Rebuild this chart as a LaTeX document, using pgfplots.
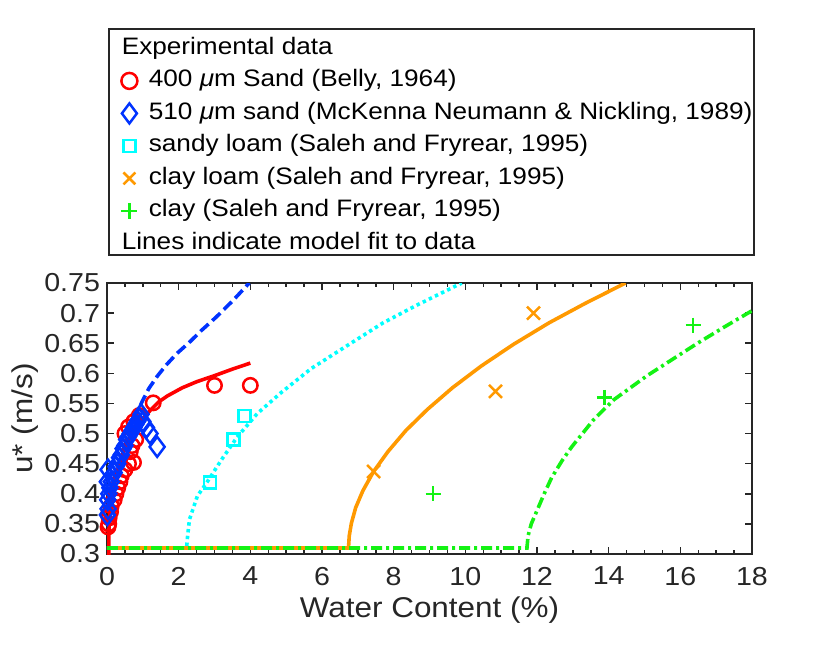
\documentclass[border=0pt]{standalone}
\usepackage{fontspec}
\setmainfont{Liberation Sans}[FakeStretch=1.1]
\usepackage{pgfplots}
\pgfplotsset{compat=1.18}
\definecolor{mred}{rgb}{1,0,0}
\definecolor{mblue}{rgb}{0,0.2,1}
\definecolor{mcyan}{rgb}{0,1,1}
\definecolor{morange}{rgb}{1,0.6,0}
\definecolor{mgreen}{rgb}{0.08,0.95,0.08}
\definecolor{mgray}{rgb}{0.15,0.15,0.15}
\begin{document}
\begin{tikzpicture}
\path (0,0) rectangle (415pt,322pt);
\begin{axis}[
  at={(53.5pt,45pt)}, anchor=south west,
  scale only axis, width=322.5pt, height=135.5pt,
  xmin=0, xmax=18, ymin=0.3, ymax=0.75,
  xtick={0,2,4,6,8,10,12,14,16,18},
  ytick={0.3,0.35,0.4,0.45,0.5,0.55,0.6,0.65,0.7,0.75},
  minor x tick num=3,
  tick align=inside,
  major tick length=3.4pt, minor tick length=2pt,
  axis line style={mgray, line width=1pt},
  every tick/.style={mgray, line width=0.75pt},
  tick label style={font=\fontsize{13}{15}\selectfont, text=mgray},
  /pgf/number format/assume math mode=true,
  yticklabel style={/pgf/number format/fixed, /pgf/number format/precision=2},
  xticklabel style={yshift=-3pt},
  xlabel={Water Content (\%)}, ylabel={u* (m/s)},
  label style={font=\fontsize{14.3}{16}\selectfont, text=mgray},
  xlabel style={at={(axis description cs:0.5,-0.2066)}, anchor=center},
  ylabel style={at={(axis description cs:-0.127,0.5)}, anchor=center},
  legend style={at={(axis description cs:0.0155,1.9085)}, anchor=north west,
    draw=none, fill=none, inner sep=0pt, outer sep=0pt,
    column sep=3.5pt, row sep=4.65pt,
    font=\fontsize{11.9}{14}\selectfont,
    nodes={inner sep=0pt, text height=8.6pt, text depth=2.6pt}},
  legend cell align=left,
]
% 400 um sand (Belly 1964)
\addplot[forget plot, only marks, mark=o, mark size=3.6pt, mred, line width=1.25pt] coordinates {
(0.03,0.345)(0.05,0.35)(0.06,0.36)(0.04,0.365)(0.1,0.37)(0.12,0.38)(0.2,0.39)(0.25,0.40)
(0.3,0.41)(0.36,0.42)(0.4,0.43)(0.5,0.44)(0.6,0.45)(0.74,0.452)(0.65,0.47)(0.7,0.48)
(0.8,0.49)(0.5,0.5)(0.6,0.511)(0.75,0.52)(0.9,0.53)(1.29,0.551)(3.0,0.58)(4.0,0.58)};
\addplot[forget plot, mred, line width=1.8pt] coordinates {
(0.05,0.25)(0.05,0.30)(0.055,0.34)(0.07,0.36)(0.1,0.38)(0.15,0.40)(0.2,0.415)(0.3,0.44)
(0.4,0.46)(0.6,0.488)(0.8,0.508)(1.0,0.525)(1.2,0.538)(1.45,0.553)(1.7,0.563)(2.1,0.576)
(2.5,0.586)(3.04,0.597)(3.5,0.607)(4.0,0.617)};
% 510 um sand
\addplot[forget plot, only marks, mark=diamond, mark size=5pt, mblue, line width=1.25pt] coordinates {
(0.01,0.365)(0.03,0.375)(0.02,0.39)(0.05,0.40)(0.01,0.42)(0.08,0.41)(0.03,0.44)(0.12,0.42)
(0.15,0.43)(0.2,0.435)(0.25,0.445)(0.3,0.45)(0.35,0.46)(0.4,0.465)(0.45,0.475)(0.5,0.48)
(0.55,0.49)(0.6,0.495)(0.65,0.50)(0.7,0.505)(0.75,0.51)(0.8,0.515)(0.85,0.52)(0.9,0.525)
(0.95,0.532)(1.0,0.52)(1.1,0.51)(1.2,0.50)(1.4,0.478)};
\addplot[forget plot, mblue, line width=1.8pt, dash pattern=on 5.5pt off 2.5pt] coordinates {
(0,0.37)(0.1,0.40)(0.2,0.425)(0.4,0.465)(0.6,0.50)(0.8,0.53)(0.98,0.553)(1.17,0.575)
(1.4,0.595)(1.64,0.613)(1.95,0.633)(2.29,0.651)(2.65,0.672)(3.04,0.693)(3.5,0.72)(3.97,0.75)};
% sandy loam
\addplot[forget plot, only marks, mark=square, mark size=3pt, mcyan, line width=1.25pt] coordinates {
(2.87,0.419)(3.53,0.49)(3.84,0.529)};
\addplot[forget plot, mcyan, line width=1.8pt, dash pattern=on 1.7pt off 1.7pt] coordinates {
(0,0.31)(2.22,0.31)(2.25,0.33)(2.3,0.357)(2.52,0.396)(2.8,0.42)(3.19,0.456)(3.63,0.494)
(4.19,0.533)(4.86,0.568)(5.7,0.608)(6.78,0.649)(7.71,0.684)(8.64,0.713)(9.9,0.75)};
% clay loam
\addplot[forget plot, only marks, mark=x, mark size=4.6pt, morange, line width=1.25pt] coordinates {
(7.44,0.437)(10.84,0.57)(11.9,0.70)};
\addplot[forget plot, morange, line width=1.8pt] coordinates {
(0,0.31)(6.74,0.31)(6.76,0.330)(6.82,0.351)(6.94,0.377)(7.14,0.405)(7.44,0.437)(7.84,0.470)
(8.34,0.505)(8.94,0.540)(9.64,0.576)(10.44,0.612)(11.34,0.648)(12.34,0.684)(13.34,0.716)(14.47,0.75)};
% clay
\addplot[forget plot, only marks, mark=+, mark size=3.75pt, mgreen, line width=1.25pt] coordinates {
(9.1,0.40)(13.88,0.56)(16.36,0.68)};
\addplot[forget plot, mgreen, line width=1.8pt, dash pattern=on 5.5pt off 2pt on 1.5pt off 2pt] coordinates {
(0,0.31)(11.72,0.31)(11.75,0.33)(11.84,0.35)(11.97,0.368)(12.2,0.40)(12.41,0.427)(12.7,0.455)
(12.97,0.478)(13.58,0.523)(14.14,0.556)(15.07,0.596)(15.8,0.624)(16.48,0.65)
(17.2,0.676)(18,0.704)};
% legend
\addlegendimage{legend image code/.code={\path (-1pt,-5.6pt) (11pt,5.6pt);}}
\addlegendentry{\hspace*{-13.5pt}Experimental data}
\addlegendimage{legend image code/.code={\path (-1pt,-5.6pt) (11pt,5.6pt);
  \draw[mred, line width=1.25pt, mark=o, mark size=4pt] plot coordinates {(5pt,0pt)};}}
\addlegendentry{400 {\itshape μ}m Sand (Belly, 1964)}
\addlegendimage{legend image code/.code={\path (-1pt,-5.6pt) (11pt,5.6pt);
  \draw[mblue, line width=1.25pt, mark=diamond, mark size=5pt] plot coordinates {(5pt,0pt)};}}
\addlegendentry{510 {\itshape μ}m sand (McKenna Neumann \& Nickling, 1989)}
\addlegendimage{legend image code/.code={\path (-1pt,-5.6pt) (11pt,5.6pt);
  \draw[mcyan, line width=1.25pt, mark=square, mark size=3pt] plot coordinates {(5pt,0pt)};}}
\addlegendentry{sandy loam (Saleh and Fryrear, 1995)}
\addlegendimage{legend image code/.code={\path (-1pt,-5.6pt) (11pt,5.6pt);
  \draw[morange, line width=1.25pt, mark=x, mark size=4.2pt] plot coordinates {(5pt,0pt)};}}
\addlegendentry{clay loam (Saleh and Fryrear, 1995)}
\addlegendimage{legend image code/.code={\path (-1pt,-5.6pt) (11pt,5.6pt);
  \draw[mgreen, line width=1.25pt, mark=+, mark size=4pt] plot coordinates {(5pt,0pt)};}}
\addlegendentry{clay (Saleh and Fryrear, 1995)}
\addlegendimage{legend image code/.code={\path (-1pt,-5.6pt) (11pt,5.6pt);}}
\addlegendentry{\hspace*{-13.5pt}Lines indicate model fit to data}
\end{axis}
\draw[mgray, line width=1pt] (54.5pt,194.5pt) rectangle (377pt,307.5pt);
\end{tikzpicture}
\end{document}
